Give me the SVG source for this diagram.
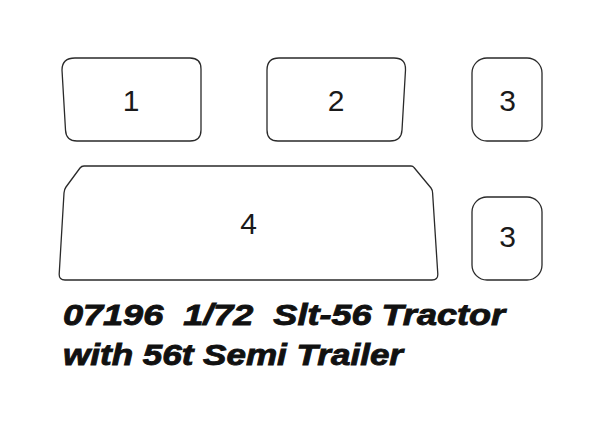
<svg xmlns="http://www.w3.org/2000/svg" width="600" height="430" viewBox="0 0 600 430">
  <style>
    .part { fill: #ffffff; stroke: #2a2a2a; stroke-width: 1.3; stroke-linejoin: round; }
    .num { font-family: "Liberation Sans", Arial, sans-serif; font-size: 30px; fill: #1a1a1a; text-anchor: middle; }
    .title { font-family: "Liberation Sans", Arial, sans-serif; font-size: 30px; font-weight: bold; font-style: italic; fill: #111111; white-space: pre; stroke: #111111; stroke-width: 0.9; }
  </style>
  <rect width="600" height="430" fill="#ffffff"/>
  <g id="part1">
    <path class="part" d="M 75,58 H 190 Q 201,58 201,69 V 130 Q 201,141 190,141 H 77 Q 66,141 65.5,130 L 62,70 Q 62,58 75,58 Z"/>
    <text class="num" x="131" y="110.5">1</text>
  </g>
  <g id="part2">
    <path class="part" d="M 279,58 H 394 Q 406,58 405.5,70 L 402,130 Q 401.5,141 390,141 H 278 Q 267,141 267,130 V 70 Q 267,58 279,58 Z"/>
    <text class="num" x="336" y="110.5">2</text>
  </g>
  <g id="part3a">
    <rect class="part" x="472" y="58" width="70" height="83" rx="15" ry="15"/>
    <text class="num" x="507.5" y="110.5">3</text>
  </g>
  <g id="part4">
    <path class="part" d="M 84,166 H 411 Q 413,166 414,167.5 L 431,188 Q 432.5,190 432.6,193 L 437.8,274 Q 438,280 432,280 H 65 Q 59,280 59.2,274 L 64,193 Q 64.2,189.5 66,187 L 80,168 Q 81.5,166 84,166 Z"/>
    <text class="num" x="248.5" y="234">4</text>
  </g>
  <g id="part3b">
    <rect class="part" x="472" y="197" width="70" height="83" rx="15" ry="15"/>
    <text class="num" x="507.5" y="246.5">3</text>
  </g>
  <g id="connectors"></g>
  <g id="caption">
    <text class="title" x="63" y="325" textLength="442" lengthAdjust="spacingAndGlyphs">07196  1/72  Slt-56 Tractor</text>
    <text class="title" x="63" y="365" textLength="340" lengthAdjust="spacingAndGlyphs">with 56t Semi Trailer</text>
  </g>
</svg>
